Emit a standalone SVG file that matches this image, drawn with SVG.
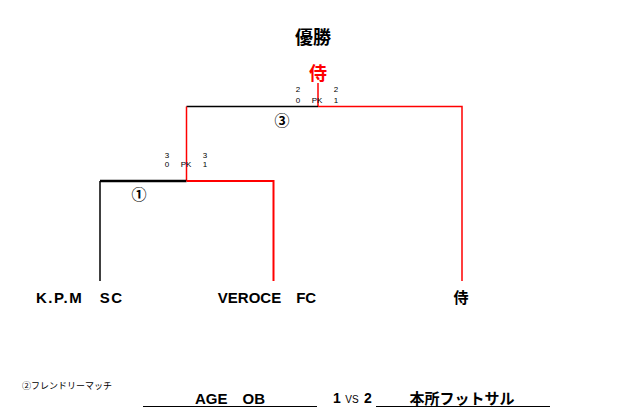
<svg xmlns="http://www.w3.org/2000/svg" width="640" height="407" viewBox="0 0 640 407">
<style>
text{font-family:"Liberation Sans","Noto Sans CJK JP",sans-serif;fill:#000}
.b{font-weight:bold}
.t{font-size:15px;font-weight:bold;text-anchor:middle}
.s{font-size:8px;text-anchor:middle}
.c{font-size:15px;font-weight:bold;text-anchor:middle}
.k{stroke:#000;fill:none}
.red{stroke:#f00;fill:none}
</style>
<rect width="640" height="407" fill="#fff"/>
<g id="connectors" stroke-width="1.5">
<path class="red" d="M318 83V106.5"/>
<path class="k" d="M186.5 106.5H318"/>
<path class="red" d="M318 106.5H462V281"/>
<path class="red" d="M186.5 106.5V181"/>
<path class="k" d="M100 181H186.5" stroke-width="2.5"/>
<path class="k" d="M100 181V281"/>
<path class="red" d="M186.5 181H273.5V281" stroke-width="2"/>
</g>
<g id="title"><text x="313" y="44" class="t" style="font-size:18px">優勝</text></g>
<g id="champion"><text x="318" y="80" class="t" style="font-size:18px;fill:#f00">侍</text></g>
<g id="match3">
<text x="282" y="126" class="c">③</text>
<text x="298" y="92" class="s">2</text><text x="336" y="92" class="s">2</text>
<text x="298" y="103" class="s">0</text><text x="317" y="103" class="s">PK</text><text x="336" y="103" class="s">1</text>
</g>
<g id="match1">
<text x="139" y="200" class="c">①</text>
<text x="167" y="158" class="s">3</text><text x="205" y="158" class="s">3</text>
<text x="167" y="167" class="s">0</text><text x="186" y="167" class="s">PK</text><text x="205" y="167" class="s">1</text>
</g>
<g id="team-kpm"><text x="36" y="303" class="b" style="font-size:15px" textLength="86" lengthAdjust="spacing">K.P.M　SC</text></g>
<g id="team-veroce"><text x="267" y="303" class="t">VEROCE　FC</text></g>
<g id="team-samurai"><text x="461" y="303" class="t">侍</text></g>
<g id="friendly">
<text x="22" y="389" style="font-size:9px">②フレンドリーマッチ</text>
<text x="230" y="404" class="t">AGE　OB</text>
<path d="M143 406.5H317M376 406.5H550" stroke="#000" stroke-width="1"/>
<text x="333" y="403" class="b" style="font-size:14px">1</text>
<text x="352" y="403" style="font-size:10px;text-anchor:middle">VS</text>
<text x="364" y="403" class="b" style="font-size:14px">2</text>
<text x="462" y="404" class="t">本所フットサル</text>
</g>
</svg>
